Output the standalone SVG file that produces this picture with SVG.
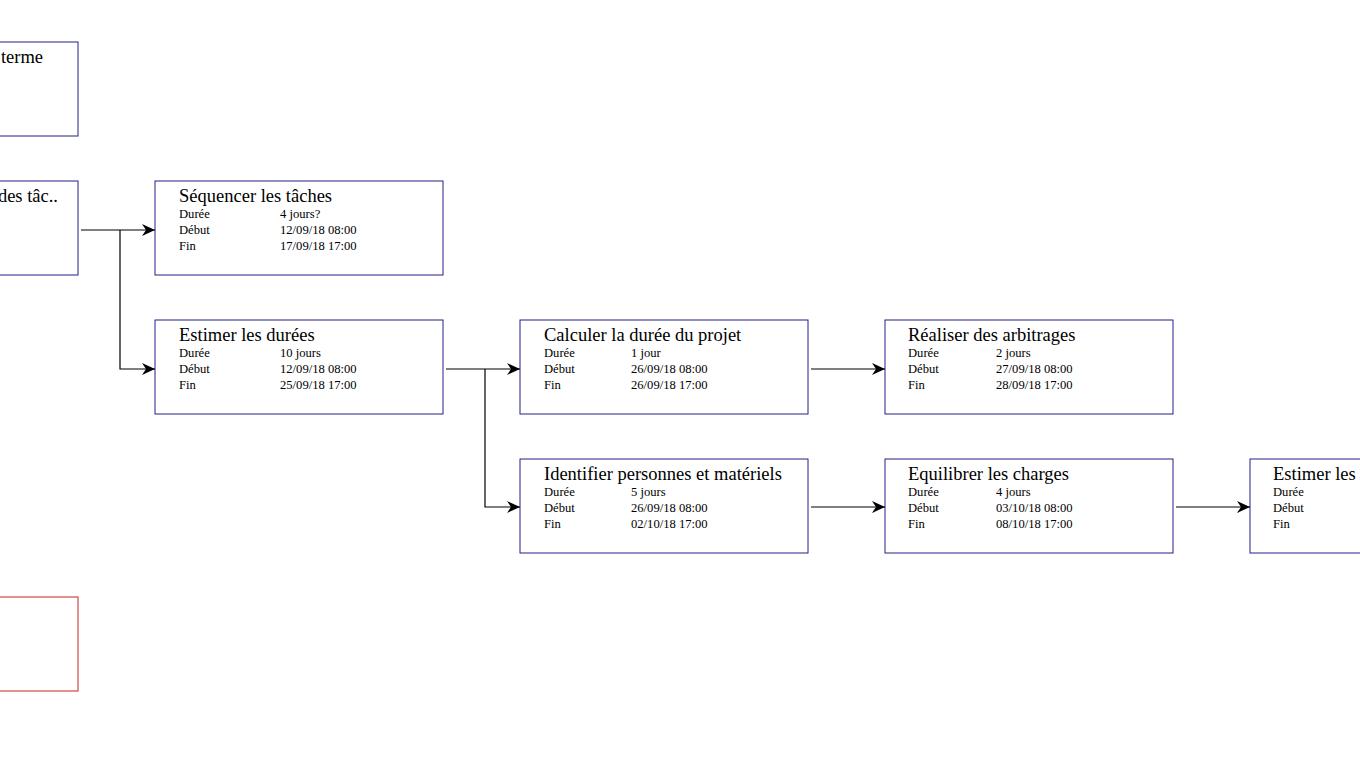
<svg xmlns="http://www.w3.org/2000/svg" width="1360" height="765" viewBox="0 0 1360 765">
<style>
.box{fill:#fff;stroke:#20208a;stroke-width:1}
.red{fill:#fff;stroke:#cc2222;stroke-width:1}
.t{font-family:"Liberation Serif",serif;font-size:18.5px;fill:#000}
.s{font-family:"Liberation Serif",serif;font-size:12.6px;fill:#000}
.c{fill:none;stroke:#000;stroke-width:1.2}
</style>
<defs>
<marker id="a" markerWidth="14" markerHeight="12" refX="13" refY="6" orient="auto" markerUnits="userSpaceOnUse">
<path d="M0,0 L13,6 L0,12 L4,6 Z" fill="#000"/>
</marker>
</defs>
<rect width="1360" height="765" fill="#fff"/>
<g id="n0"><rect class="box" x="-210" y="42" width="288" height="94"/><text class="t" x="43" y="63" text-anchor="end">terme</text></g>
<g id="n1"><rect class="box" x="-210" y="181" width="288" height="94"/><text class="t" x="58" y="202" text-anchor="end">des tâc..</text></g>
<g id="n2"><rect class="red" x="-210" y="597" width="288" height="94"/></g>
<g id="n3"><rect class="box" x="155" y="181" width="288" height="94"/>
<text class="t" x="179" y="202">Séquencer les tâches</text>
<text class="s" x="179" y="218">Durée</text><text class="s" x="280" y="218">4 jours?</text>
<text class="s" x="179" y="234">Début</text><text class="s" x="280" y="234">12/09/18 08:00</text>
<text class="s" x="179" y="250">Fin</text><text class="s" x="280" y="250">17/09/18 17:00</text></g>
<g id="n4"><rect class="box" x="155" y="320" width="288" height="94"/>
<text class="t" x="179" y="341">Estimer les durées</text>
<text class="s" x="179" y="357">Durée</text><text class="s" x="280" y="357">10 jours</text>
<text class="s" x="179" y="373">Début</text><text class="s" x="280" y="373">12/09/18 08:00</text>
<text class="s" x="179" y="389">Fin</text><text class="s" x="280" y="389">25/09/18 17:00</text></g>
<g id="n5"><rect class="box" x="520" y="320" width="288" height="94"/>
<text class="t" x="544" y="341">Calculer la durée du projet</text>
<text class="s" x="544" y="357">Durée</text><text class="s" x="631" y="357">1 jour</text>
<text class="s" x="544" y="373">Début</text><text class="s" x="631" y="373">26/09/18 08:00</text>
<text class="s" x="544" y="389">Fin</text><text class="s" x="631" y="389">26/09/18 17:00</text></g>
<g id="n6"><rect class="box" x="885" y="320" width="288" height="94"/>
<text class="t" x="908" y="341">Réaliser des arbitrages</text>
<text class="s" x="908" y="357">Durée</text><text class="s" x="996" y="357">2 jours</text>
<text class="s" x="908" y="373">Début</text><text class="s" x="996" y="373">27/09/18 08:00</text>
<text class="s" x="908" y="389">Fin</text><text class="s" x="996" y="389">28/09/18 17:00</text></g>
<g id="n7"><rect class="box" x="520" y="459" width="288" height="94"/>
<text class="t" x="544" y="480">Identifier personnes et matériels</text>
<text class="s" x="544" y="496">Durée</text><text class="s" x="631" y="496">5 jours</text>
<text class="s" x="544" y="512">Début</text><text class="s" x="631" y="512">26/09/18 08:00</text>
<text class="s" x="544" y="528">Fin</text><text class="s" x="631" y="528">02/10/18 17:00</text></g>
<g id="n8"><rect class="box" x="885" y="459" width="288" height="94"/>
<text class="t" x="908" y="480">Equilibrer les charges</text>
<text class="s" x="908" y="496">Durée</text><text class="s" x="996" y="496">4 jours</text>
<text class="s" x="908" y="512">Début</text><text class="s" x="996" y="512">03/10/18 08:00</text>
<text class="s" x="908" y="528">Fin</text><text class="s" x="996" y="528">08/10/18 17:00</text></g>
<g id="n9"><rect class="box" x="1250" y="459" width="288" height="94"/>
<text class="t" x="1273" y="480">Estimer les</text>
<text class="s" x="1273" y="496">Durée</text>
<text class="s" x="1273" y="512">Début</text>
<text class="s" x="1273" y="528">Fin</text></g>
<g id="connectors">
<path class="c" d="M81,230 H155" marker-end="url(#a)"/>
<path class="c" d="M120,230 V369 H155" marker-end="url(#a)"/>
<path class="c" d="M446,369 H520" marker-end="url(#a)"/>
<path class="c" d="M485,369 V507 H520" marker-end="url(#a)"/>
<path class="c" d="M811,369 H885" marker-end="url(#a)"/>
<path class="c" d="M811,507 H885" marker-end="url(#a)"/>
<path class="c" d="M1176,507 H1250" marker-end="url(#a)"/>
</g>
</svg>
